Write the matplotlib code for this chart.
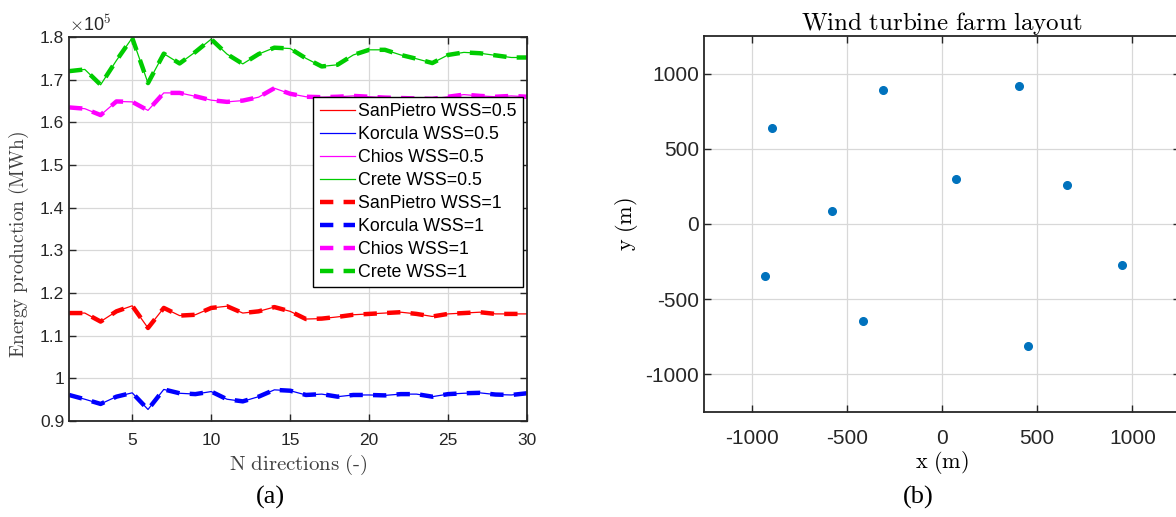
import numpy as np
import matplotlib
matplotlib.use('Agg')
import matplotlib.pyplot as plt

plt.rcParams['mathtext.fontset'] = 'cm'
plt.rcParams['font.family'] = 'Liberation Sans'
plt.rcParams['axes.unicode_minus'] = False

# energy production vs number of directions, in 1e5 MWh
n_dir = np.arange(1, 31)
sanpietro = [1.153, 1.153, 1.133, 1.157, 1.170, 1.118, 1.165, 1.147, 1.149, 1.165,
             1.169, 1.153, 1.157, 1.167, 1.157, 1.139, 1.140, 1.144, 1.149, 1.151,
             1.153, 1.155, 1.151, 1.145, 1.151, 1.153, 1.155, 1.151, 1.151, 1.151]
korcula = [0.961, 0.951, 0.940, 0.957, 0.966, 0.927, 0.974, 0.965, 0.963, 0.969,
           0.951, 0.946, 0.957, 0.973, 0.971, 0.961, 0.963, 0.957, 0.961, 0.961,
           0.960, 0.963, 0.963, 0.957, 0.963, 0.965, 0.966, 0.962, 0.961, 0.965]
chios = [1.635, 1.632, 1.617, 1.649, 1.648, 1.628, 1.669, 1.669, 1.661, 1.652,
         1.648, 1.651, 1.659, 1.680, 1.667, 1.660, 1.659, 1.660, 1.662, 1.660,
         1.658, 1.657, 1.656, 1.655, 1.660, 1.665, 1.662, 1.660, 1.662, 1.660]
crete = [1.720, 1.724, 1.688, 1.745, 1.798, 1.692, 1.761, 1.738, 1.765, 1.795,
         1.760, 1.737, 1.760, 1.775, 1.773, 1.750, 1.731, 1.735, 1.758, 1.770,
         1.770, 1.758, 1.749, 1.739, 1.758, 1.764, 1.762, 1.757, 1.752, 1.752]
sites = ['SanPietro', 'Korcula', 'Chios', 'Crete']
series = [sanpietro, korcula, chios, crete]
colors = ['#ff0000', '#0000ff', '#ff00ff', '#00cc00']

# turbine layout (m)
tx = [-892, -312, 404, 76, 658, -580, -932, 946, -414, 452]
ty = [636, 893, 916, 302, 256, 89, -347, -271, -642, -813]

fig = plt.figure(figsize=(11.76, 5.17), dpi=100)
ax1 = fig.add_axes([0.0587, 0.1857, 0.3895, 0.7427])
ax2 = fig.add_axes([0.5986, 0.2031, 0.4048, 0.7273])

for name, vals, c in zip(sites, series, colors):
    ax1.plot(n_dir, vals, '-', color=c, lw=0.9, label=name + ' WSS=0.5')
for name, vals, c in zip(sites, series, colors):
    ax1.plot(n_dir, vals, '--', color=c, lw=3.2, dashes=(3, 2.3), label=name + ' WSS=1')

ax1.set_xlim(1, 30)
ax1.set_ylim(0.9, 1.8)
ax1.set_xticks([5, 10, 15, 20, 25, 30])
ax1.set_yticks(np.arange(0.9, 1.81, 0.1))
ax1.set_yticklabels(['0.9', '1', '1.1', '1.2', '1.3', '1.4', '1.5', '1.6', '1.7', '1.8'])
ax1.text(0.0, 1.005, r'$\times$10$^5$', transform=ax1.transAxes, fontsize=13,
         color='#262626', va='bottom', ha='left')
ax1.set_xlabel(r'$\mathrm{N\ directions\ (\text{-})}$', fontsize=15, color='#404040', labelpad=3)
ax1.set_ylabel(r'$\mathrm{Energy\ production\ (MWh)}$', fontsize=14, color='#404040')
ax1.yaxis.set_label_coords(-0.083, 0.46)
leg = ax1.legend(loc='upper right', bbox_to_anchor=(0.99, 0.845), borderaxespad=0,
                 fontsize=12.8, fancybox=False, edgecolor='black', framealpha=1,
                 handlelength=2.0, handletextpad=0.15, labelspacing=0.34,
                 borderpad=0.35)
leg.get_frame().set_linewidth(1.0)

ax2.plot(tx, ty, 'o', color='#0072bd', ms=5.5)
ax2.set_xlim(-1250, 1250)
ax2.set_ylim(-1250, 1250)
ax2.set_xticks([-1000, -500, 0, 500, 1000])
ax2.set_yticks([-1000, -500, 0, 500, 1000])
ax2.set_title(r'$\mathrm{Wind\ turbine\ farm\ layout}$', fontsize=18, pad=4)
ax2.set_xlabel(r'$\mathrm{x\ (m)}$', fontsize=16, labelpad=1)
ax2.set_ylabel(r'$\mathrm{y\ (m)}$', fontsize=16, labelpad=4)

for ax, fs, pd in [(ax1, 12.5, 9), (ax2, 15, 12)]:
    ax.grid(True, color='#d8d8d8', lw=0.9)
    ax.set_axisbelow(True)
    ax.tick_params(direction='in', top=True, right=True, labelsize=fs,
                   colors='#262626', length=5, width=1)
    ax.tick_params(axis='x', pad=pd)
    for s in ax.spines.values():
        s.set_linewidth(1.3)
        s.set_color('#262626')

fig.text(0.2296, 0.025, '(a)', fontsize=19, family='Liberation Serif', ha='center')
fig.text(0.7806, 0.025, '(b)', fontsize=19, family='Liberation Serif', ha='center')

fig.savefig('out.png', dpi=100)
